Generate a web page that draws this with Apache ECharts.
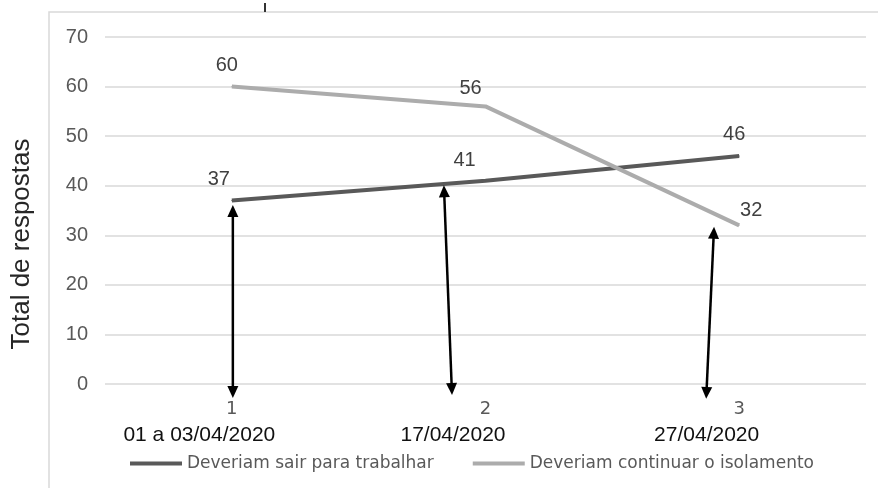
<!DOCTYPE html>
<html>
<head>
<meta charset="utf-8">
<script src="https://cdn.jsdelivr.net/npm/echarts@6/dist/echarts.min.js"></script>
<style>html,body{margin:0;padding:0;background:#fff;}#c{width:878px;height:488px;}</style>
</head>
<body>
<div id="c"></div>
<script>
const categories = ['1', '2', '3'];
const dateLabels = ['01 a 03/04/2020', '17/04/2020', '27/04/2020'];
const sairValues = [37, 41, 46];
const continuarValues = [60, 56, 32];
const seriesNames = ['Deveriam sair para trabalhar', 'Deveriam continuar o isolamento'];
const yAxisTitle = 'Total de respostas';
// annotation arrows, in data units: [category position (0 = first category), value]
const arrowTops = [[0.004, 36.1], [0.836, 40.1], [1.901, 31.7]];
const arrowBottoms = [[0.004, -2.8], [0.868, -2.2], [1.870, -3.0]];

const chart = echarts.init(document.getElementById('c'), null, {renderer: 'canvas'});

const sairOffsets = [[-13, -21], [-21, -20], [-5, -21]];
const contOffsets = [[-5, -21], [-15, -18], [12, -15]];
function withLabels(vals, offs) {
  return vals.map((v, i) => ({value: v, label: {offset: offs[i]}}));
}
const labelStyle = {show: true, position: 'inside', color: '#404040', fontSize: 20, fontFamily: 'Liberation Sans'};

chart.setOption({
  animation: false,
  backgroundColor: '#fff',
  grid: {left: 105, right: 12, top: 37, bottom: 104},
  xAxis: [{
    type: 'category', data: categories, boundaryGap: true,
    axisLine: {show: false}, axisTick: {show: false},
    axisLabel: {color: '#595959', fontSize: 18, fontFamily: 'DejaVu Sans', margin: 16}
  }, {
    type: 'category', data: dateLabels, boundaryGap: true, position: 'bottom',
    axisLine: {show: false}, axisTick: {show: false}, splitLine: {show: false},
    axisLabel: {color: '#111', fontSize: 21, fontFamily: 'Liberation Sans', margin: 41, padding: [0, 65, 0, 0]}
  }, {
    type: 'value', min: -0.5, max: categories.length - 0.5, show: false
  }],
  yAxis: {
    type: 'value', min: 0, max: 70, interval: 10,
    axisLine: {show: false}, axisTick: {show: false},
    axisLabel: {color: '#595959', fontSize: 20, fontFamily: 'Liberation Sans', margin: 17},
    splitLine: {lineStyle: {color: '#d9d9d9', width: 1.5}}
  },
  legend: {
    left: 130, top: 455, padding: 0, icon: 'rect', itemWidth: 52, itemHeight: 4, itemGap: 39,
    textStyle: {color: '#595959', fontSize: 17, fontFamily: 'DejaVu Sans'},
    data: seriesNames
  },
  series: [{
    name: seriesNames[0], type: 'line', data: withLabels(sairValues, sairOffsets),
    symbol: 'circle', symbolSize: 1, itemStyle: {color: '#595959'},
    lineStyle: {color: '#595959', width: 4}, label: labelStyle
  }, {
    name: seriesNames[1], type: 'line', data: withLabels(continuarValues, contOffsets),
    symbol: 'circle', symbolSize: 1, itemStyle: {color: '#acacac'},
    lineStyle: {color: '#acacac', width: 4}, label: labelStyle
  }]
});

function arrowGraphics() {
  const els = [];
  for (let i = 0; i < arrowTops.length; i++) {
    const a = chart.convertToPixel({xAxisIndex: 2, yAxisIndex: 0}, arrowTops[i]);
    const b = chart.convertToPixel({xAxisIndex: 2, yAxisIndex: 0}, arrowBottoms[i]);
    const dx = b[0] - a[0], dy = b[1] - a[1];
    const len = Math.sqrt(dx * dx + dy * dy);
    const ux = dx / len, uy = dy / len, px = -uy, py = ux;
    const hl = 12, hw = 5.5;
    const head = (tip, dir) => {
      const bx = tip[0] + dir * ux * hl, by = tip[1] + dir * uy * hl;
      return [[tip[0], tip[1]], [bx + px * hw, by + py * hw], [bx - px * hw, by - py * hw]];
    };
    els.push({type: 'line', z: 100, shape: {x1: a[0] + ux * 8, y1: a[1] + uy * 8, x2: b[0] - ux * 8, y2: b[1] - uy * 8},
      style: {stroke: '#000', lineWidth: 2.5}});
    els.push({type: 'polygon', z: 100, shape: {points: head(a, 1)}, style: {fill: '#000'}});
    els.push({type: 'polygon', z: 100, shape: {points: head(b, -1)}, style: {fill: '#000'}});
  }
  return els;
}

chart.setOption({
  graphic: [
    {type: 'rect', shape: {x: 49, y: 12, width: 900, height: 600}, style: {fill: 'none', stroke: '#d9d9d9', lineWidth: 1.5}, z: -1},
    {type: 'line', shape: {x1: 265, y1: 3, x2: 265, y2: 12}, style: {stroke: '#333', lineWidth: 2}},
    {type: 'text', x: 22, y: 244, rotation: Math.PI / 2,
      style: {text: yAxisTitle, fill: '#262626', fontSize: 26, fontFamily: 'Liberation Sans', align: 'center', verticalAlign: 'middle'}}
  ].concat(arrowGraphics())
});
</script>
</body>
</html>
